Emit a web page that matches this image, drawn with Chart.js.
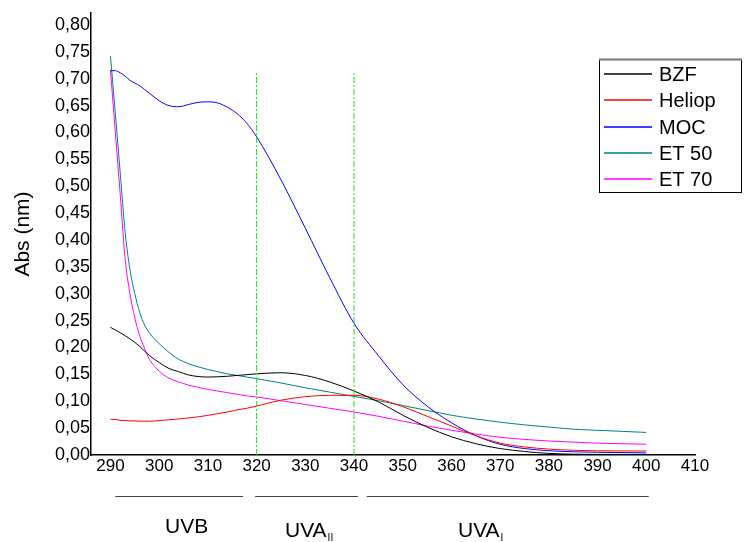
<!DOCTYPE html>
<html>
<head>
<meta charset="utf-8">
<script src="https://cdn.jsdelivr.net/npm/chart.js@4.4.0/dist/chart.umd.min.js"></script>
<style>
  html, body { margin: 0; padding: 0; background: #fff; }
  #wrap { width: 744px; height: 542px; }
</style>
</head>
<body>
<div id="wrap"><canvas id="chart" width="744" height="542"></canvas></div>
<script>
// Wavelengths (nm) shared by all series
const wavelengths = [290, 291, 292, 293, 294, 295, 296, 297, 298, 300, 302, 304, 306, 308, 310, 312, 314, 316, 318, 320,
    325, 330, 335, 340, 345, 350, 355, 360, 365, 370, 375, 380, 385, 390, 395, 400];

// Absorbance
const bzf = [0.2375, 0.2325, 0.2275, 0.222, 0.216, 0.2095, 0.202, 0.1935, 0.185, 0.172, 0.161, 0.155, 0.149, 0.146, 0.145, 0.1455, 0.1465, 0.148, 0.1495, 0.151,
    0.153, 0.148, 0.136, 0.119, 0.099, 0.074, 0.052, 0.034, 0.021, 0.012, 0.0065, 0.003, 0.0015, 0.001, 0.001, 0.001];
const heliop = [0.0664, 0.066, 0.0645, 0.064, 0.0635, 0.0633, 0.063, 0.0628, 0.0627, 0.064, 0.0655, 0.067, 0.069, 0.071, 0.0738, 0.077, 0.080, 0.084, 0.087, 0.091,
    0.102, 0.1085, 0.111, 0.111, 0.104, 0.090, 0.072, 0.054, 0.036, 0.022, 0.015, 0.011, 0.0088, 0.0078, 0.0075, 0.0074];
const moc = [0.715, 0.715, 0.711, 0.705, 0.697, 0.692, 0.687, 0.680, 0.673, 0.659, 0.650, 0.648, 0.652, 0.656, 0.657, 0.655, 0.647, 0.635, 0.617, 0.592,
    0.512, 0.422, 0.330, 0.245, 0.185, 0.131, 0.091, 0.060, 0.036, 0.020, 0.012, 0.008, 0.006, 0.005, 0.0045, 0.004];
const et50 = [0.742, 0.635, 0.525, 0.415, 0.345, 0.300, 0.265, 0.242, 0.227, 0.207, 0.191, 0.178, 0.170, 0.164, 0.159, 0.155, 0.151, 0.148, 0.145, 0.142,
    0.134, 0.125, 0.117, 0.109, 0.101, 0.092, 0.083, 0.074, 0.067, 0.061, 0.056, 0.052, 0.048, 0.046, 0.044, 0.042];
const et70 = [0.716, 0.600, 0.485, 0.365, 0.300, 0.255, 0.222, 0.198, 0.178, 0.156, 0.143, 0.136, 0.130, 0.126, 0.122, 0.119, 0.116, 0.113, 0.110, 0.108,
    0.101, 0.094, 0.087, 0.080, 0.072, 0.063, 0.054, 0.046, 0.039, 0.033, 0.029, 0.026, 0.024, 0.022, 0.021, 0.020];

const seriesNames = ['BZF', 'Heliop', 'MOC', 'ET 50', 'ET 70'];
const seriesValues = [bzf, heliop, moc, et50, et70];
const seriesColors = ['#000000', '#ff0000', '#0000ff', '#008080', '#ff00ff'];

// Axis ticks
const xTicks = [290, 300, 310, 320, 330, 340, 350, 360, 370, 380, 390, 400, 410];
const yTicks = [0, 0.05, 0.10, 0.15, 0.20, 0.25, 0.30, 0.35, 0.40, 0.45, 0.50, 0.55, 0.60, 0.65, 0.70, 0.75, 0.80];

// Band borders (dotted green) and UV bands under the axis
const bandBorders = [320, 340];
const bandBorderTop = 0.713;
const bandNames = ['UVB', 'UVA', 'UVA'];
const bandSubs = ['', 'II', 'I'];
const bandFrom = [291, 319.7, 342.6];
const bandTo = [317.2, 340.8, 400.5];

const FONT = '"Liberation Sans", Arial, sans-serif';

// Build datasets
const datasets = [];
bandBorders.forEach(x => {
    datasets.push({
        data: [{ x: x, y: 0 }, { x: x, y: bandBorderTop }],
        borderColor: '#22dd22',
        borderWidth: 1,
        borderDash: [6, 2, 2, 2],
        pointRadius: 0
    });
});
seriesNames.forEach((name, i) => {
    datasets.push({
        label: name,
        data: wavelengths.map((w, j) => ({ x: w, y: seriesValues[i][j] })),
        borderColor: seriesColors[i],
        borderWidth: 1,
        pointRadius: 0,
        cubicInterpolationMode: 'monotone'
    });
});

// Legend box and UV band annotations
const extrasPlugin = {
    id: 'extras',
    afterDraw(chart) {
        const ctx = chart.ctx;
        const xs = chart.scales.x;
        ctx.save();

        // legend
        ctx.strokeStyle = '#000';
        ctx.lineWidth = 1;
        ctx.strokeRect(599.5, 59.5, 142, 133);
        ctx.strokeStyle = '#777';
        ctx.lineWidth = 2;
        ctx.beginPath();
        ctx.moveTo(599, 59.5);
        ctx.lineTo(742, 59.5);
        ctx.stroke();
        ctx.font = '20px ' + FONT;
        ctx.textBaseline = 'middle';
        seriesNames.forEach((name, i) => {
            const y = Math.round(74 + i * 26.3);
            ctx.setLineDash([]);
            ctx.strokeStyle = seriesColors[i];
            ctx.lineWidth = 1.5;
            ctx.beginPath();
            ctx.moveTo(604, y);
            ctx.lineTo(652, y);
            ctx.stroke();
            ctx.fillStyle = '#000';
            ctx.fillText(name, 659, y + 1);
        });

        // UV bands
        ctx.strokeStyle = '#444';
        ctx.lineWidth = 1;
        bandNames.forEach((name, i) => {
            const x1 = xs.getPixelForValue(bandFrom[i]);
            const x2 = xs.getPixelForValue(bandTo[i]);
            ctx.beginPath();
            ctx.moveTo(x1, 496.5);
            ctx.lineTo(x2, 496.5);
            ctx.stroke();
        });
        ctx.textBaseline = 'alphabetic';
        ctx.textAlign = 'left';
        ctx.fillStyle = '#000';
        const labelX = [165, 285, 458];
        bandNames.forEach((name, i) => {
            ctx.font = '21px ' + FONT;
            const y = i === 0 ? 533 : 537;
            ctx.fillText(name, labelX[i], y);
            if (bandSubs[i]) {
                const w = ctx.measureText(name).width;
                ctx.font = '10px ' + FONT;
                ctx.fillText(bandSubs[i], labelX[i] + w + 1, y + 4);
            }
        });
        ctx.restore();
    }
};

new Chart(document.getElementById('chart'), {
    type: 'line',
    data: { datasets: datasets },
    options: {
        responsive: false,
        animation: false,
        devicePixelRatio: 1,
        layout: { padding: { left: 0, top: 13, right: 49, bottom: 0 } },
        plugins: {
            legend: { display: false },
            tooltip: { enabled: false }
        },
        scales: {
            x: {
                type: 'linear',
                min: 286,
                max: 410,
                afterBuildTicks: scale => { scale.ticks = xTicks.map(v => ({ value: v })); },
                afterFit: scale => { scale.height = 87; },
                grid: { display: false, drawTicks: false },
                border: { display: true, color: '#000', width: 1.5 },
                ticks: {
                    color: '#000',
                    font: { family: FONT, size: 17 },
                    padding: 1,
                    maxRotation: 0,
                    autoSkip: false,
                    callback: v => String(v)
                }
            },
            y: {
                type: 'linear',
                min: 0,
                max: 0.8223,
                afterBuildTicks: scale => { scale.ticks = yTicks.map(v => ({ value: v })); },
                afterFit: scale => { scale.width = 91; },
                grid: { display: false, drawTicks: false },
                border: { display: true, color: '#000', width: 1.5 },
                title: {
                    display: true,
                    text: 'Abs (nm)',
                    color: '#000',
                    font: { family: FONT, size: 21 },
                    padding: { top: 11, bottom: 0 }
                },
                ticks: {
                    color: '#000',
                    font: { family: FONT, size: 18 },
                    padding: 1,
                    autoSkip: false,
                    callback: v => v.toFixed(2).replace('.', ',')
                }
            }
        }
    },
    plugins: [extrasPlugin]
});
</script>
</body>
</html>
